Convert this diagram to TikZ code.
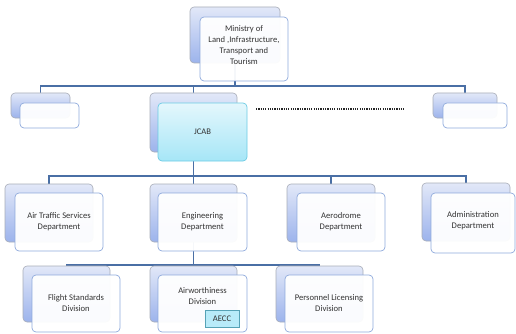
\documentclass[tikz,border=0pt]{standalone}
\usepackage{fontspec}
\setmainfont{Carlito}
\pgfdeclarelayer{bg}
\pgfsetlayers{bg,main}
\definecolor{linecol}{HTML}{4A6FA5}
\definecolor{backtop}{HTML}{E2E8F8}
\definecolor{backbot}{HTML}{9CB3EC}
\definecolor{backdraw}{HTML}{A8ADB8}
\definecolor{frontdraw}{HTML}{8FAADC}
\definecolor{cyantop}{HTML}{E4F7FC}
\definecolor{cyanbot}{HTML}{A6E6F7}
\definecolor{cyandraw}{HTML}{6CCBE4}
\definecolor{txt}{HTML}{333333}
\tikzset{
  backbox/.style={draw=backdraw, line width=0.6pt, rounded corners=4pt, top color=backtop, bottom color=backbot, inner sep=0pt},
  frontbox/.style={draw=frontdraw, line width=0.7pt, rounded corners=4pt, fill=white, fill opacity=0.95, text opacity=1, inner sep=0pt},
  jcabbox/.style={draw=cyandraw, line width=0.7pt, rounded corners=4pt, top color=cyantop, bottom color=cyanbot, inner sep=0pt},
  aeccbox/.style={draw=cyandraw!80!black, line width=0.6pt, fill=cyanbot!80, inner sep=0pt},
  conn/.style={draw=linecol, line width=1.4pt},
  lbl/.style={align=center, text=txt, font=\fontsize{8.6}{11}\selectfont, inner sep=0pt},
}
\begin{document}
\begin{tikzpicture}[x=1pt,y=-1pt]
\useasboundingbox (0,0) rectangle (516,334);
% level 0
\node[backbox, minimum width=90, minimum height=56] (minb) at (235,35) {};
\node[frontbox, minimum width=88, minimum height=64] (minf) at (244,49) {};
\node[lbl] (mint) at (244,45) {Ministry of\\Land ,Infrastructure,\\Transport and\\Tourism};
% level 1
\node[backbox, minimum width=59, minimum height=25] (lsb) at (40.5,105.5) {};
\node[frontbox, minimum width=59, minimum height=25] (lsf) at (49.5,115.5) {};
\node[backbox, minimum width=87, minimum height=59] (jcb) at (193.5,122.5) {};
\node[jcabbox, minimum width=89, minimum height=58] (jcf) at (202.5,132) {};
\node[lbl] (jct) at (202.5,132) {JCAB};
\node[backbox, minimum width=64, minimum height=25] (rsb) at (465,105.5) {};
\node[frontbox, minimum width=64, minimum height=25] (rsf) at (475,115.5) {};
\coordinate (dotA) at (256,109);
\coordinate (dotB) at (405,109);
\draw[line width=1.8pt, dash pattern=on 1.2pt off 1.1pt, draw=black!85] (dotA) -- (dotB);
% level 2
\node[backbox, minimum width=88, minimum height=58] (atsb) at (49,213) {};
\node[frontbox, minimum width=88, minimum height=58] (atsf) at (59,222) {};
\node[lbl] (atst) at (59,222) {Air Traffic Services\\Department};
\node[backbox, minimum width=87, minimum height=58] (engb) at (193.5,213) {};
\node[frontbox, minimum width=89, minimum height=58] (engf) at (202.5,222) {};
\node[lbl] (engt) at (202.5,222) {Engineering\\Department};
\node[backbox, minimum width=88, minimum height=58] (aerb) at (331,213) {};
\node[frontbox, minimum width=88, minimum height=58] (aerf) at (341,222) {};
\node[lbl] (aert) at (341,222) {Aerodrome\\Department};
\node[backbox, minimum width=88, minimum height=58] (admb) at (466,212) {};
\node[frontbox, minimum width=84, minimum height=60] (admf) at (473,223) {};
\node[lbl] (admt) at (473,221) {Administration\\Department};
% level 3
\node[backbox, minimum width=87, minimum height=56] (flb) at (66.5,294) {};
\node[frontbox, minimum width=88, minimum height=57] (flf) at (76,303.5) {};
\node[lbl] (flt) at (76,303.5) {Flight Standards\\Division};
\node[backbox, minimum width=87, minimum height=56] (awb) at (193.5,294) {};
\node[frontbox, minimum width=89, minimum height=57] (awf) at (202.5,303.5) {};
\node[lbl] (awt) at (202.5,296) {Airworthiness\\Division};
\node[aeccbox, minimum width=34, minimum height=17, lbl] (aecc) at (222,318.5) {AECC};
\node[backbox, minimum width=87, minimum height=56] (peb) at (319.5,294) {};
\node[frontbox, minimum width=88, minimum height=57] (pef) at (329,303.5) {};
\node[lbl] (pet) at (329,303.5) {Personnel Licensing\\Division};
% connectors
\coordinate (bus1) at (234,86);
\coordinate (bus2) at (193.5,176);
\coordinate (bus3) at (193.5,265);
\begin{pgfonlayer}{bg}
\draw[conn] (minb.center) -- (minb.center |- bus1);
\draw[conn] (lsb.north) |- (bus1) -| (rsb.north);
\draw[conn] (jcb.north) -- (jcb.north |- bus1);
\draw[conn] (jcb.center) -- (bus2);
\draw[conn] (atsb.north) |- (bus2) -| (admb.north);
\draw[conn] (engb.north) -- (bus2);
\draw[conn] (aerb.north) -- (aerb.north |- bus2);
\draw[conn] (engb.center) -- (bus3);
\draw[conn] (flb.north) |- (bus3) -| (peb.north);
\draw[conn] (awb.north) -- (bus3);
\end{pgfonlayer}
\end{tikzpicture}
\end{document}
